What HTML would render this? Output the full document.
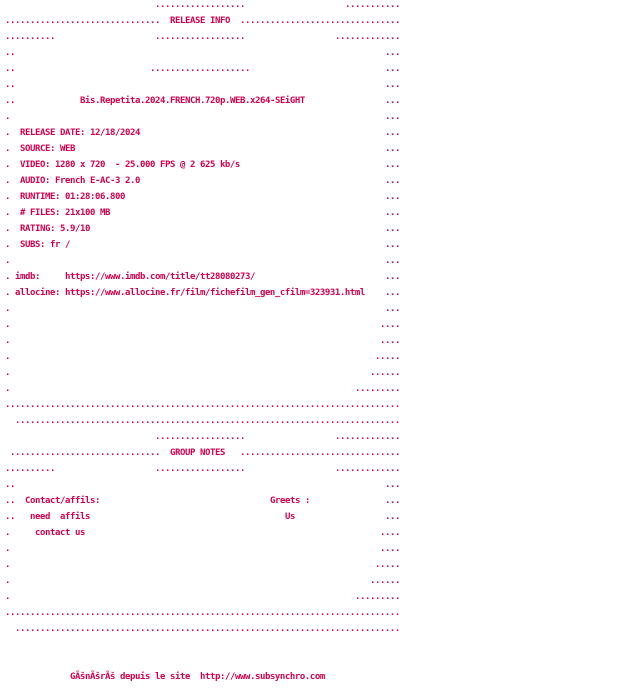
<!DOCTYPE html>
<html><head><meta charset="utf-8"><style>
html,body{margin:0;padding:0;background:#fff;width:640px;height:688px;overflow:hidden}
#w{position:absolute;left:0;top:-1px;width:640px;height:689px}
.r{position:absolute;left:0;height:16px;width:640px}
.r span{position:absolute;top:0;white-space:pre;font-family:"DejaVu Sans Mono","Liberation Mono",monospace;font-size:9px;letter-spacing:-0.42px;line-height:16px;color:#d4004f;font-weight:bold}
</style></head><body><div id="w">
<div class="r" style="top:-2px"><span style="left:155px">..................</span><span style="left:345px">...........</span></div>
<div class="r" style="top:14px"><span style="left:5px">...............................</span><span style="left:170px">RELEASE INFO</span><span style="left:240px">................................</span></div>
<div class="r" style="top:30px"><span style="left:5px">..........</span><span style="left:155px">..................</span><span style="left:335px">.............</span></div>
<div class="r" style="top:46px"><span style="left:5px">..</span><span style="left:385px">...</span></div>
<div class="r" style="top:62px"><span style="left:5px">..</span><span style="left:150px">....................</span><span style="left:385px">...</span></div>
<div class="r" style="top:78px"><span style="left:5px">..</span><span style="left:385px">...</span></div>
<div class="r" style="top:94px"><span style="left:5px">..</span><span style="left:80px">Bis.Repetita.2024.FRENCH.720p.WEB.x264-SEiGHT</span><span style="left:385px">...</span></div>
<div class="r" style="top:110px"><span style="left:5px">.</span><span style="left:385px">...</span></div>
<div class="r" style="top:126px"><span style="left:5px">.</span><span style="left:20px">RELEASE DATE: 12/18/2024</span><span style="left:385px">...</span></div>
<div class="r" style="top:142px"><span style="left:5px">.</span><span style="left:20px">SOURCE: WEB</span><span style="left:385px">...</span></div>
<div class="r" style="top:158px"><span style="left:5px">.</span><span style="left:20px">VIDEO: 1280 x 720  - 25.000 FPS @ 2 625 kb/s</span><span style="left:385px">...</span></div>
<div class="r" style="top:174px"><span style="left:5px">.</span><span style="left:20px">AUDIO: French E-AC-3 2.0</span><span style="left:385px">...</span></div>
<div class="r" style="top:190px"><span style="left:5px">.</span><span style="left:20px">RUNTIME: 01:28:06.800</span><span style="left:385px">...</span></div>
<div class="r" style="top:206px"><span style="left:5px">.</span><span style="left:20px"># FILES: 21x100 MB</span><span style="left:385px">...</span></div>
<div class="r" style="top:222px"><span style="left:5px">.</span><span style="left:20px">RATING: 5.9/10</span><span style="left:385px">...</span></div>
<div class="r" style="top:238px"><span style="left:5px">.</span><span style="left:20px">SUBS: fr /</span><span style="left:385px">...</span></div>
<div class="r" style="top:254px"><span style="left:5px">.</span><span style="left:385px">...</span></div>
<div class="r" style="top:270px"><span style="left:5px">.</span><span style="left:15px">imdb:</span><span style="left:65px">https://www.imdb.com/title/tt28080273/</span><span style="left:385px">...</span></div>
<div class="r" style="top:286px"><span style="left:5px">.</span><span style="left:15px">allocine:</span><span style="left:65px">https://www.allocine.fr/film/fichefilm_gen_cfilm=323931.html</span><span style="left:385px">...</span></div>
<div class="r" style="top:302px"><span style="left:5px">.</span><span style="left:385px">...</span></div>
<div class="r" style="top:318px"><span style="left:5px">.</span><span style="left:380px">....</span></div>
<div class="r" style="top:334px"><span style="left:5px">.</span><span style="left:380px">....</span></div>
<div class="r" style="top:350px"><span style="left:5px">.</span><span style="left:375px">.....</span></div>
<div class="r" style="top:366px"><span style="left:5px">.</span><span style="left:370px">......</span></div>
<div class="r" style="top:382px"><span style="left:5px">.</span><span style="left:355px">.........</span></div>
<div class="r" style="top:398px"><span style="left:5px">...............................................................................</span></div>
<div class="r" style="top:414px"><span style="left:15px">.............................................................................</span></div>
<div class="r" style="top:430px"><span style="left:155px">..................</span><span style="left:335px">.............</span></div>
<div class="r" style="top:446px"><span style="left:10px">..............................</span><span style="left:170px">GROUP NOTES</span><span style="left:240px">................................</span></div>
<div class="r" style="top:462px"><span style="left:5px">..........</span><span style="left:155px">..................</span><span style="left:335px">.............</span></div>
<div class="r" style="top:478px"><span style="left:5px">..</span><span style="left:385px">...</span></div>
<div class="r" style="top:494px"><span style="left:5px">..</span><span style="left:25px">Contact/affils:</span><span style="left:270px">Greets :</span><span style="left:385px">...</span></div>
<div class="r" style="top:510px"><span style="left:5px">..</span><span style="left:30px">need  affils</span><span style="left:285px">Us</span><span style="left:385px">...</span></div>
<div class="r" style="top:526px"><span style="left:5px">.</span><span style="left:35px">contact us</span><span style="left:380px">....</span></div>
<div class="r" style="top:542px"><span style="left:5px">.</span><span style="left:380px">....</span></div>
<div class="r" style="top:558px"><span style="left:5px">.</span><span style="left:375px">.....</span></div>
<div class="r" style="top:574px"><span style="left:5px">.</span><span style="left:370px">......</span></div>
<div class="r" style="top:590px"><span style="left:5px">.</span><span style="left:355px">.........</span></div>
<div class="r" style="top:606px"><span style="left:5px">...............................................................................</span></div>
<div class="r" style="top:622px"><span style="left:15px">.............................................................................</span></div>
<div class="r" style="top:670px"><span style="left:70px">GÃšnÃšrÃš depuis le site  http://www.subsynchro.com</span></div>
</div></body></html>
